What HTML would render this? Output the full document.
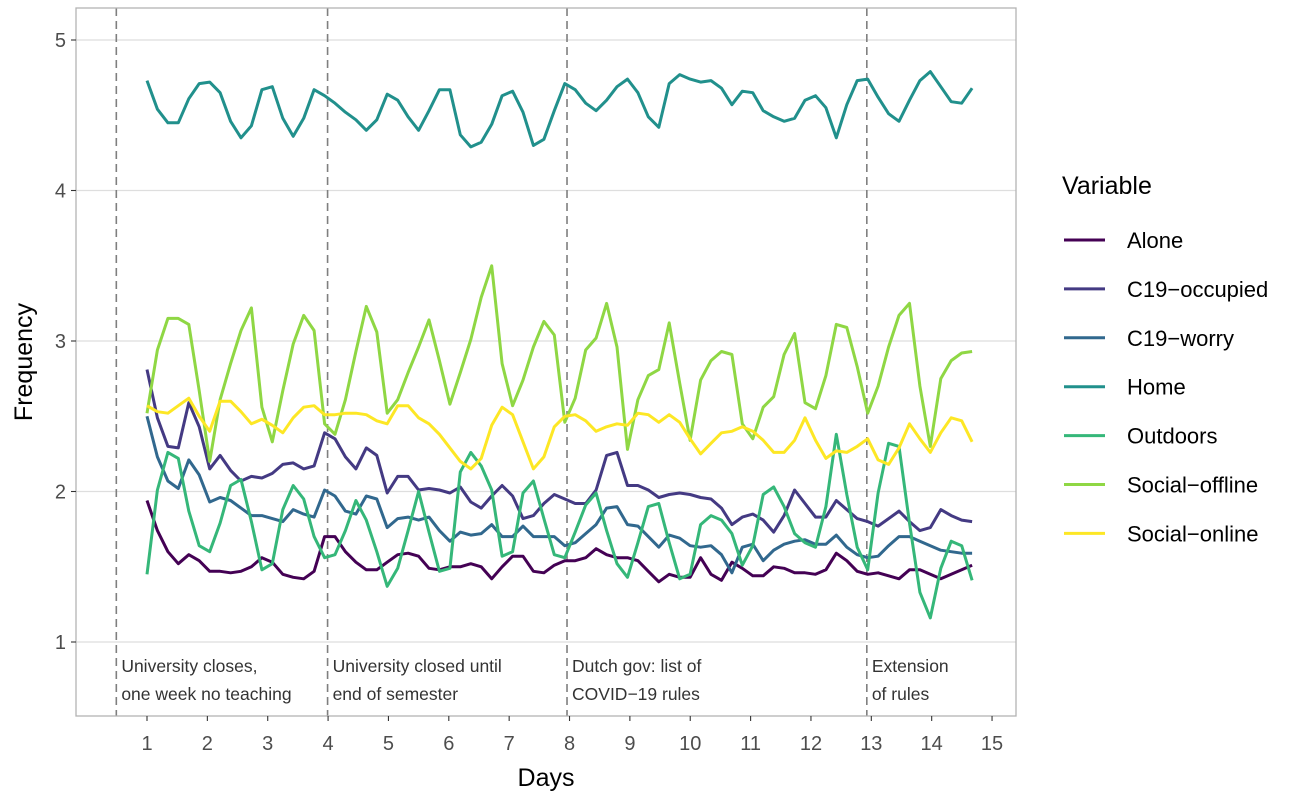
<!DOCTYPE html>
<html><head><meta charset="utf-8"><style>
body{margin:0;background:#fff;}
svg text{font-family:"Liberation Sans",Arial,sans-serif;}
</style></head><body>
<svg id="chart" width="1309" height="805" xmlns="http://www.w3.org/2000/svg">
<rect x="0" y="0" width="1309" height="805" fill="#fff"/>
<g id="grid"></g>
<g id="vlines"></g>
<g id="series"></g>
<rect x="76" y="8" width="940" height="708" fill="none" stroke="#b3b3b3" stroke-width="1.3"/>
<g id="axes"></g>
<text transform="translate(32,362) rotate(-90)" text-anchor="middle" font-size="25" fill="#000">Frequency</text>
<text x="546" y="786" text-anchor="middle" font-size="25" fill="#000">Days</text>
<g id="legend"><text x="1062" y="194" font-size="25" fill="#000">Variable</text></g>
</svg>
<script>
const categories=["Alone","C19\u2212occupied","C19\u2212worry","Home","Outdoors","Social\u2212offline","Social\u2212online"];
const colors=["#440154","#443A83","#31688E","#21908C","#35B779","#8FD744","#FDE725"];
const yTicks=[1,2,3,4,5];
const xTicks=[1,2,3,4,5,6,7,8,9,10,11,12,13,14,15];
const events=[0.5,4,8,13];
const eventShift=[0,0,-2,-4];
const eventLabels=[["University closes,","one week no teaching"],["University closed until","end of semester"],["Dutch gov: list of","COVID\u221219 rules"],["Extension","of rules"]];
const nPoints=80, dayStart=1, dayEnd=14.67;
const alone=[1.94,1.74,1.60,1.52,1.58,1.54,1.47,1.47,1.46,1.47,1.50,1.56,1.53,1.45,1.43,1.42,1.47,1.70,1.70,1.60,1.53,1.48,1.48,1.53,1.58,1.59,1.57,1.49,1.48,1.50,1.50,1.52,1.50,1.42,1.50,1.57,1.57,1.47,1.46,1.51,1.54,1.54,1.56,1.62,1.58,1.56,1.56,1.54,1.47,1.40,1.45,1.43,1.43,1.56,1.45,1.41,1.53,1.49,1.44,1.44,1.50,1.49,1.46,1.46,1.45,1.48,1.59,1.54,1.47,1.45,1.46,1.44,1.42,1.48,1.48,1.45,1.42,1.45,1.48,1.51];
const occupied=[2.81,2.49,2.30,2.29,2.59,2.43,2.15,2.24,2.14,2.07,2.10,2.09,2.12,2.18,2.19,2.15,2.17,2.39,2.35,2.23,2.15,2.29,2.24,1.99,2.10,2.10,2.01,2.02,2.01,1.99,2.03,1.93,1.89,1.97,2.04,1.97,1.82,1.84,1.92,1.98,1.95,1.92,1.92,2.01,2.24,2.26,2.04,2.04,2.01,1.96,1.98,1.99,1.98,1.96,1.95,1.89,1.78,1.83,1.85,1.81,1.73,1.84,2.01,1.92,1.83,1.83,1.94,1.88,1.82,1.80,1.77,1.82,1.87,1.80,1.74,1.76,1.88,1.84,1.81,1.80];
const worry=[2.50,2.23,2.07,2.02,2.21,2.11,1.93,1.96,1.94,1.89,1.84,1.84,1.82,1.80,1.88,1.85,1.83,2.01,1.97,1.87,1.85,1.97,1.95,1.76,1.82,1.83,1.81,1.83,1.74,1.67,1.73,1.71,1.72,1.78,1.70,1.70,1.77,1.70,1.70,1.70,1.64,1.66,1.72,1.78,1.89,1.90,1.78,1.77,1.70,1.63,1.71,1.69,1.64,1.63,1.64,1.58,1.46,1.63,1.65,1.54,1.61,1.65,1.67,1.68,1.65,1.65,1.71,1.63,1.58,1.56,1.57,1.64,1.70,1.70,1.67,1.64,1.61,1.60,1.59,1.59];
const home=[4.73,4.54,4.45,4.45,4.61,4.71,4.72,4.65,4.46,4.35,4.43,4.67,4.69,4.48,4.36,4.48,4.67,4.63,4.58,4.52,4.47,4.40,4.47,4.64,4.60,4.49,4.40,4.53,4.67,4.67,4.37,4.29,4.32,4.44,4.63,4.66,4.52,4.30,4.34,4.53,4.71,4.67,4.58,4.53,4.60,4.69,4.74,4.65,4.49,4.42,4.71,4.77,4.74,4.72,4.73,4.68,4.57,4.66,4.65,4.53,4.49,4.46,4.48,4.60,4.63,4.55,4.35,4.57,4.73,4.74,4.62,4.51,4.46,4.60,4.73,4.79,4.69,4.59,4.58,4.68];
const outdoors=[1.45,2.01,2.26,2.22,1.87,1.64,1.60,1.79,2.04,2.08,1.80,1.48,1.52,1.88,2.04,1.95,1.70,1.56,1.58,1.74,1.94,1.81,1.60,1.37,1.49,1.74,2.00,1.73,1.47,1.49,2.13,2.26,2.17,2.01,1.57,1.60,1.99,2.07,1.82,1.58,1.56,1.73,1.91,1.99,1.74,1.52,1.43,1.66,1.90,1.92,1.66,1.42,1.45,1.78,1.84,1.81,1.72,1.51,1.64,1.98,2.03,1.90,1.72,1.66,1.63,1.90,2.38,1.98,1.63,1.48,1.99,2.32,2.30,1.79,1.33,1.16,1.49,1.67,1.64,1.41];
const offline=[2.52,2.94,3.15,3.15,3.11,2.67,2.20,2.61,2.85,3.07,3.22,2.56,2.33,2.67,2.98,3.17,3.07,2.45,2.38,2.61,2.93,3.23,3.06,2.52,2.61,2.79,2.96,3.14,2.87,2.58,2.79,3.01,3.29,3.50,2.85,2.57,2.74,2.96,3.13,3.04,2.46,2.62,2.94,3.02,3.25,2.96,2.28,2.61,2.77,2.81,3.12,2.72,2.34,2.74,2.87,2.93,2.91,2.45,2.35,2.56,2.63,2.91,3.05,2.59,2.55,2.77,3.11,3.09,2.83,2.52,2.70,2.96,3.17,3.25,2.70,2.30,2.75,2.87,2.92,2.93];
const online=[2.57,2.53,2.52,2.57,2.62,2.50,2.40,2.60,2.60,2.53,2.45,2.48,2.44,2.39,2.49,2.56,2.57,2.51,2.51,2.52,2.52,2.51,2.47,2.45,2.57,2.57,2.49,2.45,2.38,2.29,2.20,2.15,2.22,2.44,2.56,2.51,2.33,2.15,2.23,2.43,2.50,2.51,2.47,2.40,2.43,2.45,2.44,2.52,2.51,2.46,2.51,2.46,2.35,2.25,2.32,2.39,2.40,2.43,2.40,2.34,2.26,2.26,2.34,2.49,2.34,2.22,2.27,2.26,2.30,2.35,2.21,2.18,2.29,2.45,2.35,2.26,2.39,2.49,2.47,2.33];
const seriesValues=[alone,occupied,worry,home,outdoors,offline,online];

const NS="http://www.w3.org/2000/svg";
const X0=147,XPD=60.36,Y1=642,YPU=150.5;
function xs(d){return X0+(d-1)*XPD;}
function ys(v){return Y1-(v-1)*YPU;}
function mk(tag,attrs,parent){const e=document.createElementNS(NS,tag);for(const k in attrs)e.setAttribute(k,attrs[k]);parent.appendChild(e);return e;}
const grid=document.getElementById('grid'),axes=document.getElementById('axes'),vl=document.getElementById('vlines'),sg=document.getElementById('series'),lg=document.getElementById('legend');
yTicks.forEach(t=>{
 const l=mk('line',{x1:76,x2:1016,y1:ys(t),y2:ys(t),stroke:'#dedede','stroke-width':1.2},grid);
 
 
 const tk=mk('line',{x1:71,x2:76,y1:ys(t),y2:ys(t),stroke:'#333','stroke-width':1.1},axes);
 
 
 const tx=mk('text',{x:66,y:ys(t)+7,'text-anchor':'end','font-size':20,fill:'#4d4d4d'},axes);
 
 
 tx.textContent=t;
});
xTicks.forEach(t=>{
 const tk=mk('line',{x1:xs(t),x2:xs(t),y1:716,y2:721,stroke:'#333','stroke-width':1.1},axes);
 
 
 const tx=mk('text',{x:xs(t),y:750,'text-anchor':'middle','font-size':20,fill:'#4d4d4d'},axes);
 
 
 tx.textContent=t;
});
events.forEach((d,i)=>{
 const ex=xs(d)-0.5+eventShift[i];
 const l=mk('line',{x1:ex,x2:ex,y1:8,y2:716,stroke:'#7f7f7f','stroke-width':1.6,'stroke-dasharray':'8,5'},vl);
 
 
 eventLabels[i].forEach((s,j)=>{
  const t=mk('text',{x:ex+5,y:672+j*28,'font-size':17.5,fill:'#333'},vl);
  
  
  t.textContent=s;
 });
});
seriesValues.forEach((vals,s)=>{
 const pts=vals.map((v,i)=>{const d=dayStart+i*(dayEnd-dayStart)/(nPoints-1);return xs(d).toFixed(1)+','+ys(v).toFixed(1);}).join(' ');
 const p=mk('polyline',{points:pts,fill:'none',stroke:colors[s],'stroke-width':3,'stroke-linejoin':'round'},sg);
 
 
 const y=240+s*48.9;
 const ll=mk('line',{x1:1064,x2:1105,y1:y,y2:y,stroke:colors[s],'stroke-width':3},lg);
 
 
 const lt=mk('text',{x:1127,y:y+8,'font-size':22,fill:'#000'},lg);
 
 
 lt.textContent=categories[s];
});
</script>
</body></html>
